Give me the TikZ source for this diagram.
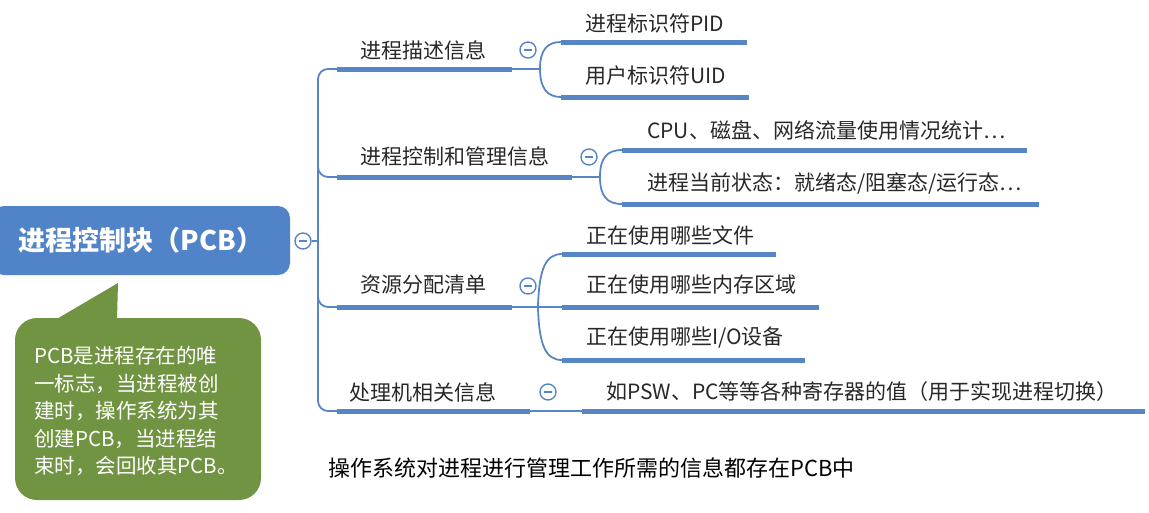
\documentclass[tikz,border=0pt]{standalone}
\usepackage{fontspec}
\setmainfont{Noto Sans CJK SC}
\definecolor{linec}{RGB}{88,134,196}
\definecolor{rootc}{RGB}{80,131,200}
\definecolor{callc}{RGB}{113,148,66}
\definecolor{txtc}{RGB}{40,40,40}
\tikzset{
  thinl/.style={draw=linec,line width=1.8pt},
  thickl/.style={draw=linec,line width=5pt},
  lbl/.style={text=txtc,font=\fontsize{21}{23}\selectfont,inner sep=0pt},
  leaf/.style={lbl,anchor=west},
  tog/.style={circle,draw=linec,line width=1.4pt,fill=white,minimum size=16pt,inner sep=0pt,
    path picture={\draw[linec,line width=1.4pt] ([xshift=-4pt]path picture bounding box.center) -- ([xshift=4pt]path picture bounding box.center);}},
  rootbox/.style={fill=rootc,rounded corners=12pt,minimum width=298pt,minimum height=69pt,text=white,
    font=\fontsize{27}{29}\selectfont\bfseries,inner sep=0pt},
  calltext/.style={text=white,font=\fontsize{20.5}{27.5}\selectfont,align=left,inner sep=0pt,anchor=west}
}
\begin{document}
\begin{tikzpicture}[x=1pt,y=-1pt]
\useasboundingbox (0,0) rectangle (1149,512);
% root
\node[rootbox] (root) at (141,240.5) {进程控制块（PCB）};
\node[tog] (t0) at (303,241) {};
\coordinate (tj) at (318,241);
\draw[thinl] (t0) -- (tj);
% callout
\fill[callc,rounded corners=22pt] (15,318) rectangle (261,500);
\fill[callc] (55,320) -- (118,283) -- (117,320) -- cycle;
\node[calltext] (note) at (34,411) {PCB是进程存在的唯\\一标志，当进程被创\\建时，操作系统为其\\创建PCB，当进程结\\束时，会回收其PCB。};
% trunk coordinates
\coordinate (b1s) at (337,69);  \coordinate (b1e) at (512,69);  \coordinate (f1) at (540,69);
\coordinate (b2s) at (337,177); \coordinate (b2e) at (572,177); \coordinate (f2) at (600,177);
\coordinate (b3s) at (337,307); \coordinate (b3e) at (512,307); \coordinate (f3) at (538,307);
\coordinate (b4s) at (337,411); \coordinate (b4e) at (530,411); \coordinate (f4) at (582,411);
\draw[thinl,rounded corners=10pt] (b1s) -- (318,69) -- (318,411) -- (b4s);
\draw[thinl,rounded corners=10pt] (318,160) |- (b2s);
\draw[thinl,rounded corners=10pt] (318,290) |- (b3s);
% branch 1
\node[lbl] (n1) at (423,50) {进程描述信息};
\node[tog] (t1) at (528,50) {};
\draw[thickl] (b1s) -- (b1e);
\draw[thinl] (b1e) -- (f1);
\coordinate (l11s) at (561,42); \coordinate (l11e) at (747,42);
\coordinate (l12s) at (561,97); \coordinate (l12e) at (749,97);
\draw[thinl] (f1) .. controls (540,50) and (547,42) .. (l11s);
\draw[thinl] (f1) .. controls (540,88) and (547,97) .. (l12s);
\draw[thickl] (l11s) -- (l11e);
\draw[thickl] (l12s) -- (l12e);
\node[leaf] (n11) at (585,23) {进程标识符PID};
\node[leaf] (n12) at (585,76) {用户标识符UID};
% branch 2
\node[lbl] (n2) at (455,156) {进程控制和管理信息};
\node[tog] (t2) at (589,157) {};
\draw[thickl] (b2s) -- (b2e);
\draw[thinl] (b2e) -- (f2);
\coordinate (l21s) at (622,150); \coordinate (l21e) at (1027,150);
\coordinate (l22s) at (622,204); \coordinate (l22e) at (1039,204);
\draw[thinl] (f2) .. controls (600,158) and (607,150) .. (l21s);
\draw[thinl] (f2) .. controls (600,196) and (607,204) .. (l22s);
\draw[thickl] (l21s) -- (l21e);
\draw[thickl] (l22s) -- (l22e);
\node[leaf] (n21) at (647,130) {CPU、磁盘、网络流量使用情况统计…};
\node[leaf] (n22) at (647,183) {进程当前状态：就绪态/阻塞态/运行态…};
% branch 3
\node[lbl] (n3) at (423,285) {资源分配清单};
\node[tog] (t3) at (528,286) {};
\draw[thickl] (b3s) -- (b3e);
\coordinate (l31s) at (562,254); \coordinate (l31e) at (776,254);
\coordinate (l32s) at (562,307); \coordinate (l32e) at (819,307);
\coordinate (l33s) at (562,360); \coordinate (l33e) at (805,360);
\draw[thinl] (b3e) -- (l32s);
\draw[thinl] (f3) .. controls (539,268) and (546,254) .. (l31s);
\draw[thinl] (f3) .. controls (539,346) and (546,360) .. (l33s);
\draw[thickl] (l31s) -- (l31e);
\draw[thickl] (l32s) -- (l32e);
\draw[thickl] (l33s) -- (l33e);
\node[leaf] (n31) at (586,235) {正在使用哪些文件};
\node[leaf] (n32) at (586,285) {正在使用哪些内存区域};
\node[leaf] (n33) at (586,338) {正在使用哪些I/O设备};
% branch 4
\node[lbl] (n4) at (423,392) {处理机相关信息};
\node[tog] (t4) at (548,392) {};
\draw[thickl] (b4s) -- (b4e);
\draw[thinl] (b4e) -- (f4);
\coordinate (l41e) at (1145,411);
\draw[thickl] (f4) -- (l41e);
\node[leaf] (n41) at (606,392) {如PSW、PC等等各种寄存器的值（用于实现进程切换）};
% bottom note
\node[lbl,text=black,anchor=west,font=\fontsize{22}{24}\selectfont] (foot) at (328,468) {操作系统对进程进行管理工作所需的信息都存在PCB中};
\end{tikzpicture}
\end{document}
